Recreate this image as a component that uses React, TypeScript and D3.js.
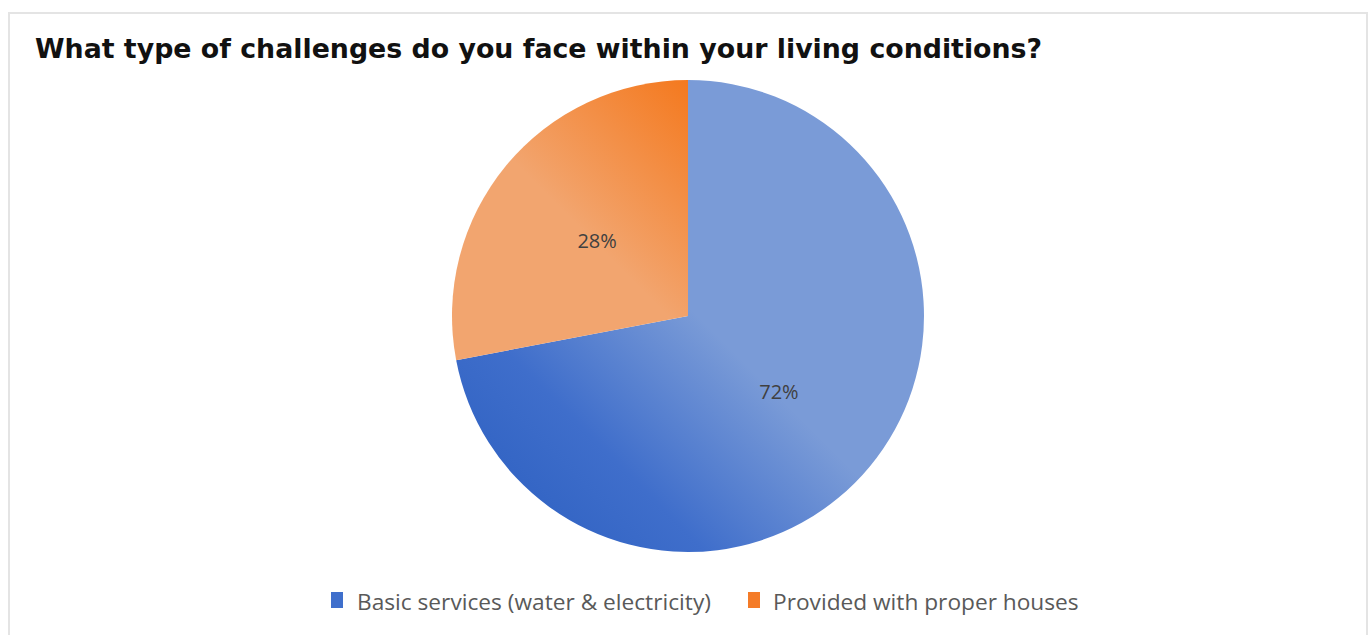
import React from "react";
import * as d3 from "d3";

const title = "What type of challenges do you face within your living conditions?";
const categories = ["Basic services (water & electricity)", "Provided with proper houses"];
const values = [72, 28];
const valueLabels = ["72%", "28%"];

const W = 1372;
const H = 635;
const cx = 688;
const cy = 316;
const R = 236;

export default function App() {
  const pie = d3.pie<number>().sort(null).value((d) => d);
  const arcs = pie(values);
  const arcGen = d3.arc<d3.PieArcDatum<number>>().innerRadius(0).outerRadius(R);
  const labelArc = d3.arc<d3.PieArcDatum<number>>().innerRadius(R * 0.5).outerRadius(R * 0.5);
  const fills = ["url(#gBlue)", "url(#gOrange)"];
  const swatch = ["#3f6fcc", "#f47b27"];

  const legendY = 603;
  const legendItems = [
    { x: 331, textX: 357 },
    { x: 748, textX: 773 },
  ];

  return (
    <svg
      width={W}
      height={H}
      style={{ position: "absolute", left: 0, top: 0, background: "#fff" }}
    >
      <defs>
        <linearGradient id="gBlue" gradientUnits="userSpaceOnUse" x1={-185} y1={185} x2={5} y2={-5}>
          <stop offset="0" stopColor="#3163c3" />
          <stop offset="0.4" stopColor="#3f6ecb" />
          <stop offset="1" stopColor="#7a9bd7" />
        </linearGradient>
        <linearGradient id="gOrange" gradientUnits="userSpaceOnUse" x1={-10} y1={10} x2={115} y2={-115}>
          <stop offset="0" stopColor="#f2a56f" />
          <stop offset="1" stopColor="#f47a20" />
        </linearGradient>
      </defs>
      <rect x={9} y={13} width={1358} height={640} fill="#fff" stroke="#e4e4e4" strokeWidth={2} />
      <text
        x={35}
        y={58}
        fontFamily="DejaVu Sans"
        fontWeight="bold"
        fontSize={26.8}
        fill="#111"
      >
        {title}
      </text>
      <g transform={`translate(${cx},${cy})`}>
        {arcs.map((a, i) => (
          <path key={i} d={arcGen(a) || ""} fill={fills[i]} />
        ))}
        {arcs.map((a, i) => {
          const [lx, ly] = labelArc.centroid(a);
          return (
            <text
              key={"l" + i}
              x={lx}
              y={ly}
              textAnchor="middle"
              dominantBaseline="central"
              fontFamily="Open Sans"
              fontSize={20}
              fill="#404040"
            >
              {valueLabels[i]}
            </text>
          );
        })}
      </g>
      {categories.map((c, i) => (
        <g key={"lg" + i}>
          <rect x={legendItems[i].x} y={legendY - 11} width={12} height={16} fill={swatch[i]} />
          <text
            x={legendItems[i].textX}
            y={legendY + 7}
            fontFamily="Open Sans"
            fontSize={22.7}
            fill="#595959"
          >
            {c}
          </text>
        </g>
      ))}
    </svg>
  );
}
